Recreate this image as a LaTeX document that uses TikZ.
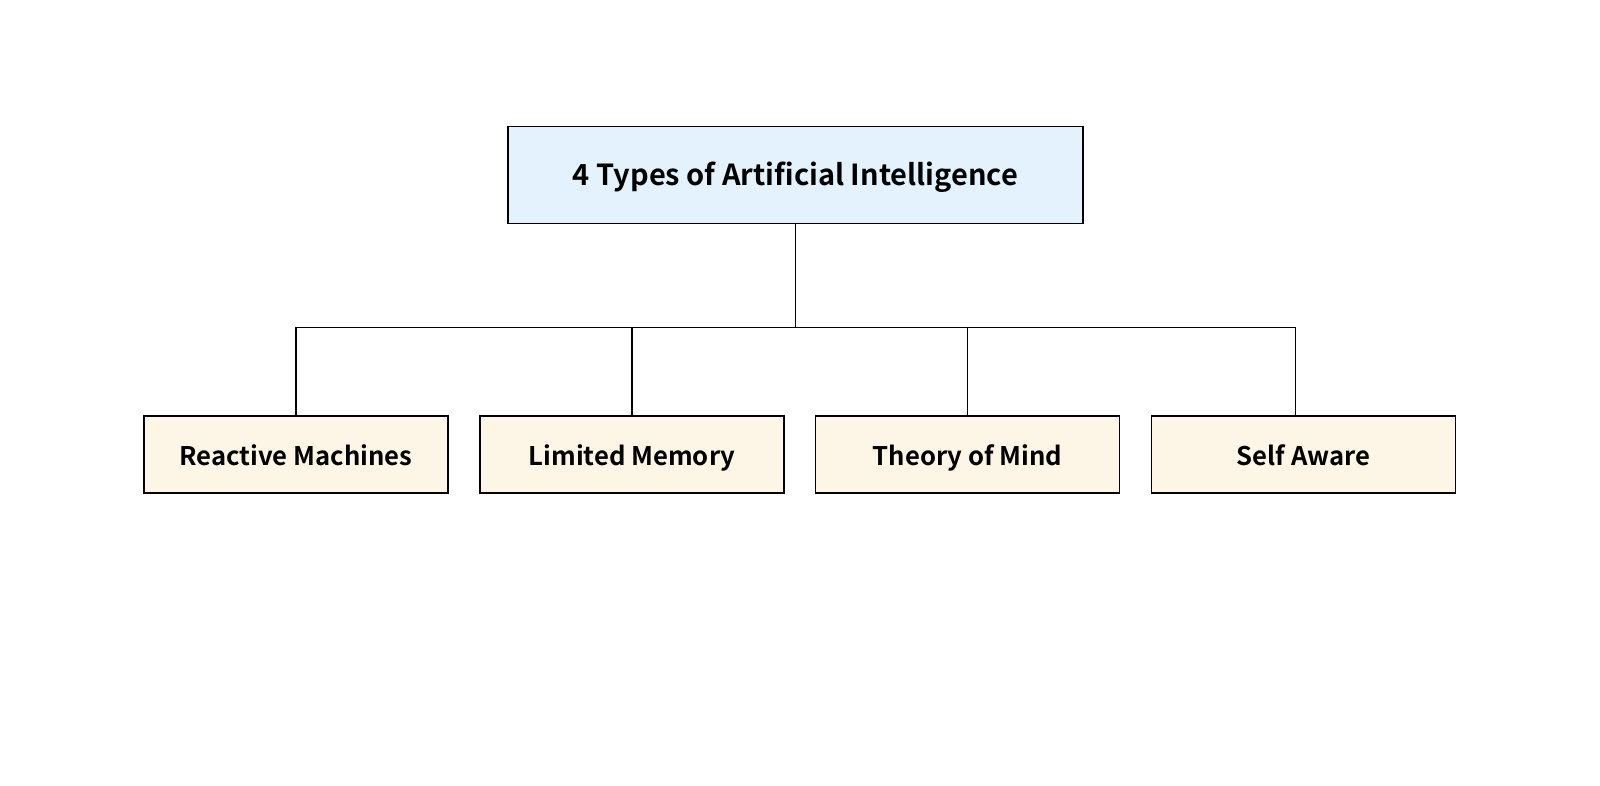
\documentclass[tikz,border=0pt]{standalone}
\usepackage{fontspec}
\setmainfont{Noto Sans CJK SC}[BoldFont={* Bold}]
\usetikzlibrary{positioning}
\definecolor{rootfill}{HTML}{E3F2FD}
\definecolor{typefill}{HTML}{FDF5E6}

\begin{document}
\begin{tikzpicture}[x=0.02cm, y=-0.02cm,
  root/.style = {draw, thick, fill=rootfill, minimum width=11.5cm, minimum height=1.94cm, text height=2.75ex, text depth=0.45ex, font=\fontsize{16.5}{20}\selectfont\bfseries},
  kind/.style = {draw, thick, fill=typefill, minimum width=6.08cm, minimum height=1.54cm, text height=2.75ex, text depth=0.45ex, font=\fontsize{14.6}{18}\selectfont\bfseries}]
	\useasboundingbox (0,0) rectangle (1600,785);
	\node[root] (ai) at (795.5,175) {4 Types of Artificial Intelligence};
	\node[kind] (rm) at (296,454.5) {Reactive Machines};
	\node[kind] (lm) at (632,454.5) {Limited Memory};
	\node[kind] (tm) at (967.5,454.5) {Theory of Mind};
	\node[kind] (sa) at (1303.5,454.5) {Self Aware};
	\coordinate (bus) at (795.5,327.6);
	\draw[semithick] (ai) -- (bus);
	\draw[semithick] (rm) |- (bus);
	\draw[semithick] (lm) |- (bus);
	\draw[semithick] (tm) |- (bus);
	\draw[semithick] ([xshift=-1.64mm]sa.north) |- (bus);
\end{tikzpicture}
\end{document}
